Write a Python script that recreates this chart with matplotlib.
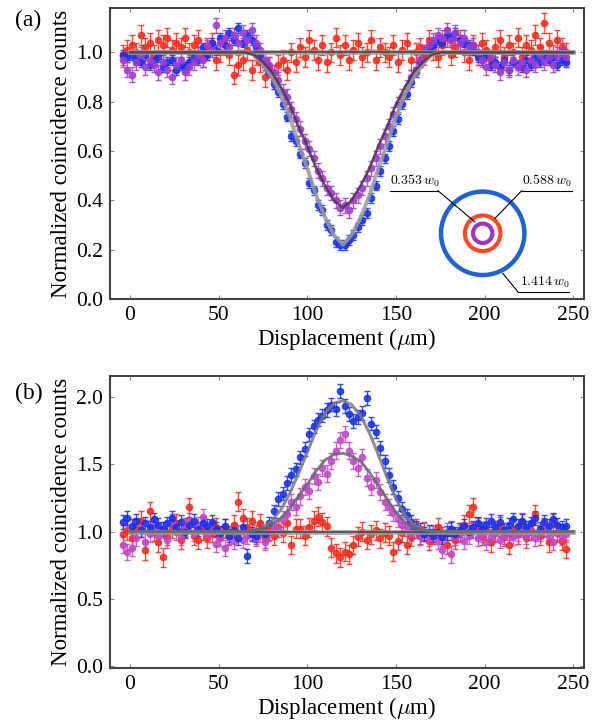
import numpy as np
import matplotlib
matplotlib.use("Agg")
import matplotlib.pyplot as plt

plt.rcParams['font.family'] = ['Liberation Serif', 'DejaVu Serif']
plt.rcParams['mathtext.fontset'] = 'cm'

# sample positions (um)
x = np.arange(-4, 247, 2.5)

# ---- panel (a) data ----
red_a = [0.99, 1.01, 1.03, 1.00, 1.07, 1.02, 1.04, 0.99, 1.05, 1.03,
         1.06, 1.01, 1.04, 1.02, 1.06, 1.00, 1.03, 1.05, 0.98, 1.01,
         1.04, 0.97, 1.00, 1.03, 0.99, 0.91, 0.95, 0.97, 1.01, 0.93,
         0.99, 0.96, 0.90, 0.94, 0.89, 0.95, 0.97, 0.93, 1.00, 0.96,
         1.02, 0.98, 1.05, 1.01, 0.97, 1.03, 0.96, 1.00, 1.06, 0.99,
         1.03, 0.97, 1.01, 1.04, 0.98, 1.00, 1.05, 0.97, 1.02, 1.00,
         0.98, 1.03, 0.96, 1.01, 1.04, 0.97, 1.00, 1.02, 0.99, 1.05,
         1.01, 0.98, 1.03, 1.06, 0.99, 1.02, 1.05, 1.00, 0.97, 1.03,
         0.99, 1.04, 1.01, 0.97, 1.02, 1.05, 0.98, 1.03, 1.00, 1.06,
         0.98, 1.03, 1.01, 1.07, 1.02, 1.12, 1.04, 0.99, 1.05, 1.02,
         1.00]
blue_a = [0.99, 0.98, 0.99, 0.97, 0.96, 0.99, 0.95, 0.97, 0.98, 0.94,
          0.96, 0.97, 0.93, 0.95, 0.94, 0.96, 0.98, 0.97, 1.02, 0.99,
          1.04, 1.01, 1.06, 1.03, 1.08, 1.05, 1.10, 1.04, 1.07, 1.05,
          1.02, 0.99, 0.95, 0.92, 0.87, 0.84, 0.79, 0.74, 0.66, 0.64,
          0.59, 0.55, 0.47, 0.44, 0.38, 0.36, 0.30, 0.28, 0.23, 0.22,
          0.22, 0.24, 0.26, 0.29, 0.32, 0.35, 0.41, 0.46, 0.52, 0.57,
          0.62, 0.68, 0.73, 0.79, 0.83, 0.88, 0.92, 0.96, 1.00, 1.01,
          1.03, 1.05, 1.04, 1.07, 1.06, 1.08, 1.05, 1.04, 1.03, 1.01,
          0.98, 0.97, 0.99, 0.95, 0.96, 0.94, 0.97, 0.93, 0.96, 0.95,
          0.94, 0.97, 0.95, 0.98, 0.96, 0.99, 0.97, 0.98, 0.95, 0.97,
          0.96]
purple_a = [0.97, 0.93, 0.91, 0.96, 0.99, 0.94, 0.97, 0.95, 0.92, 0.96,
            0.93, 0.90, 0.95, 0.97, 0.92, 0.94, 0.96, 0.99, 0.97, 1.03,
            1.01, 1.11, 1.04, 1.06, 1.02, 1.07, 1.04, 1.08, 1.05, 1.09,
            1.04, 1.01, 0.97, 0.95, 0.92, 0.89, 0.84, 0.82, 0.77, 0.73,
            0.69, 0.64, 0.61, 0.57, 0.52, 0.49, 0.45, 0.43, 0.40, 0.37,
            0.38, 0.36, 0.40, 0.42, 0.45, 0.49, 0.53, 0.57, 0.62, 0.66,
            0.70, 0.75, 0.79, 0.82, 0.86, 0.90, 0.93, 0.97, 1.00, 1.03,
            1.05, 1.07, 1.06, 1.09, 1.05, 1.08, 1.04, 1.06, 1.02, 1.03,
            1.00, 0.97, 0.94, 0.98, 0.95, 0.92, 0.96, 0.93, 0.97, 0.94,
            0.96, 0.93, 0.97, 0.95, 0.99, 0.96, 0.98, 0.95, 0.99, 1.01,
            0.98]

# ---- panel (b) data ----
red_b = [0.98, 1.01, 0.95, 1.03, 1.08, 0.86, 1.15, 1.00, 0.92, 0.81,
         0.97, 1.02, 1.06, 0.94, 1.03, 1.18, 0.97, 0.94, 1.01, 0.95,
         0.99, 1.03, 0.96, 1.02, 0.97, 1.05, 1.22, 1.10, 1.03, 1.08,
         0.98, 1.06, 0.95, 1.01, 0.97, 1.03, 0.99, 1.06, 0.90, 1.02,
         1.02, 0.97, 1.03, 1.08, 1.11, 1.07, 1.04, 0.88, 0.84, 0.81,
         0.85, 0.83, 0.90, 0.96, 1.00, 0.94, 0.98, 1.01, 0.95, 0.99,
         0.97, 0.85, 0.93, 0.99, 0.90, 0.96, 1.02, 0.97, 1.00, 0.93,
         0.98, 1.03, 0.96, 0.90, 1.01, 0.94, 0.99, 1.05, 1.13, 1.18,
         1.03, 0.97, 1.01, 0.92, 0.99, 1.04, 0.96, 0.90, 1.02, 0.98,
         1.07, 0.95, 1.01, 1.13, 0.97, 1.03, 0.92, 1.06, 0.99, 0.93,
         0.87]
blue_b = [1.07, 1.10, 1.04, 1.08, 1.01, 1.06, 1.03, 1.09, 1.05, 1.02,
          1.06, 1.10, 1.03, 1.07, 1.00, 1.05, 1.08, 1.02, 1.06, 1.04,
          1.07, 1.02, 0.99, 1.04, 0.97, 1.01, 0.95, 1.03, 0.82, 0.98,
          0.97, 1.01, 0.98, 1.06, 1.15, 1.24, 1.28, 1.36, 1.42, 1.46,
          1.55, 1.61, 1.72, 1.78, 1.83, 1.86, 1.90, 1.94, 1.91, 2.04,
          1.93, 1.87, 1.82, 1.85, 1.88, 1.99, 1.80, 1.74, 1.62, 1.52,
          1.42, 1.33, 1.25, 1.17, 1.12, 1.07, 1.03, 1.01, 0.98, 1.00,
          0.97, 1.00, 0.96, 0.99, 1.02, 0.98, 1.01, 1.04, 1.00, 1.03,
          1.06, 1.02, 1.05, 1.08, 1.03, 1.07, 1.01, 1.05, 1.09, 1.04,
          1.08, 1.03, 1.06, 1.10, 1.02, 1.07, 1.04, 1.09, 1.05, 1.03,
          1.04]
purple_b = [0.90, 0.85, 0.88, 0.95, 1.02, 0.92, 0.98, 1.04, 0.97, 1.01,
            0.94, 1.07, 1.00, 0.96, 1.03, 1.08, 0.99, 1.05, 1.11, 0.98,
            1.02, 0.91, 0.95, 0.88, 0.97, 0.93, 0.99, 0.94, 0.97, 1.00,
            0.95, 0.98, 0.92, 0.99, 1.04, 1.02, 1.09, 1.13, 1.22, 1.18,
            1.26, 1.33, 1.30, 1.41, 1.37, 1.47, 1.43, 1.52, 1.60, 1.68,
            1.72, 1.60, 1.52, 1.47, 1.55, 1.40, 1.33, 1.38, 1.29, 1.22,
            1.18, 1.14, 1.09, 1.05, 1.03, 0.99, 1.01, 0.97, 1.00, 0.95,
            0.98, 0.93, 0.86, 1.00, 0.83, 0.96, 0.99, 0.93, 0.97, 1.01,
            0.95, 0.98, 0.92, 0.96, 0.99, 0.94, 0.97, 1.00, 0.96, 0.99,
            1.02, 0.97, 1.00, 0.95, 0.99, 1.03, 0.97, 0.92, 1.00, 0.96,
            0.98]

# error bar half-widths per series
err_a = {'red': 0.04, 'blue': 0.02, 'purple': 0.03}
err_b = {'red': 0.07, 'blue': 0.05, 'purple': 0.06}

# fit curves, sampled every 5 um from 0 to 250
fit_x = np.arange(0, 251, 5)
blue_fit_a = [1.0] * 14 + [0.99, 0.95, 0.90, 0.83, 0.74, 0.63, 0.53, 0.42, 0.33, 0.26, 0.22,
                           0.26, 0.33, 0.42, 0.53, 0.63, 0.74, 0.83, 0.90, 0.95, 0.99] + [1.0] * 16
purple_fit_a = [1.0] * 14 + [0.99, 0.96, 0.92, 0.86, 0.79, 0.70, 0.62, 0.53, 0.46, 0.40, 0.37,
                             0.40, 0.46, 0.53, 0.62, 0.70, 0.79, 0.86, 0.92, 0.96, 0.99] + [1.0] * 16
blue_fit_b = [1.0] * 14 + [1.01, 1.03, 1.08, 1.16, 1.28, 1.43, 1.59, 1.75, 1.88, 1.95, 1.97,
                           1.94, 1.86, 1.73, 1.57, 1.40, 1.24, 1.12, 1.05, 1.02, 1.00] + [1.0] * 16
purple_fit_b = [1.0] * 14 + [1.01, 1.02, 1.05, 1.10, 1.17, 1.26, 1.35, 1.45, 1.53, 1.57, 1.58,
                             1.56, 1.52, 1.44, 1.34, 1.24, 1.14, 1.07, 1.03, 1.01, 1.00] + [1.0] * 16
flat_x = [0, 250]
flat_y = [1.0, 1.0]

# inset ring labels
ring_labels = [r'$0.353\,w_0$', r'$0.588\,w_0$', r'$1.414\,w_0$']

colors_a = {'red': '#ff2a1a', 'blue': '#1530f0', 'purple': '#a03ad0'}
colors_b = {'red': '#ff2a1a', 'blue': '#1530f0', 'purple': '#c046c8'}

fig = plt.figure(figsize=(6.06, 7.2), dpi=100)
ax1 = fig.add_axes([110/606, 1-299/720, 474/606, 291/720])
ax2 = fig.add_axes([110/606, 1-668/720, 474/606, 292/720])


def draw_data(ax, series, err, cols):
    for name, y in series:
        ax.errorbar(x, y, yerr=err[name], fmt='o', ms=4.5, color=cols[name],
                    ecolor=cols[name], elinewidth=1, capsize=2.5, capthick=1,
                    alpha=0.85, zorder=2)


draw_data(ax1, [('red', red_a), ('blue', blue_a), ('purple', purple_a)], err_a, colors_a)
ax1.plot(flat_x, flat_y, color='#999999', lw=3.5, alpha=0.8, zorder=3)
ax1.plot(flat_x, flat_y, color='#333333', lw=1.2, alpha=0.8, zorder=3)
ax1.plot(fit_x, blue_fit_a, color='#9a9a9a', lw=2.8, alpha=0.85, zorder=3)
ax1.plot(fit_x, purple_fit_a, color='#4a3a4a', lw=1.8, alpha=0.85, zorder=3)

draw_data(ax2, [('red', red_b), ('purple', purple_b), ('blue', blue_b)], err_b, colors_b)
ax2.plot(flat_x, flat_y, color='#999999', lw=3.5, alpha=0.8, zorder=3)
ax2.plot(flat_x, flat_y, color='#333333', lw=1.2, alpha=0.8, zorder=3)
ax2.plot(fit_x, blue_fit_b, color='#7a7a7a', lw=2.2, alpha=0.85, zorder=3)
ax2.plot(fit_x, purple_fit_b, color='#6a6a6a', lw=2.0, alpha=0.85, zorder=3)

ax1.set_xlim(-11.3, 256)
ax1.set_ylim(0, 1.18)
ax1.set_yticks([0.0, 0.2, 0.4, 0.6, 0.8, 1.0])
ax2.set_xlim(-11.3, 256)
ax2.set_ylim(-0.012, 2.153)
ax2.set_yticks([0.0, 0.5, 1.0, 1.5, 2.0])

for ax in (ax1, ax2):
    ax.set_xticks([0, 50, 100, 150, 200, 250])
    ax.yaxis.set_major_formatter(matplotlib.ticker.FormatStrFormatter('%.1f'))
    ax.tick_params(direction='in', length=3, width=0.8, color='#888888',
                   top=True, right=True, labelsize=15.5, pad=5)
    for s in ax.spines.values():
        s.set_linewidth(1.5)
        s.set_color('#444444')
    ax.set_xlabel(r'Displacement ($\mu$m)', fontsize=16.5, labelpad=1)
    ax.set_ylabel('Normalized coincidence counts', fontsize=16.5, labelpad=3)

fig.text(15/606, 1-20/720, '(a)', fontsize=17, va='center', ha='left')
fig.text(15/606, 1-393/720, '(b)', fontsize=17, va='center', ha='left')

# inset with beam rings, pixel-like coordinates
ins = fig.add_axes([385/606, 1-298/720, 195/606, 123/720])
ins.set_xlim(0, 195)
ins.set_ylim(0, 123)
ins.set_aspect('equal')
ins.axis('off')
cx, cy = 97.7, 64.7
ins.add_patch(plt.Circle((cx, cy), 41.7, fill=False, ec='#1e62d6', lw=3.2))
ins.add_patch(plt.Circle((cx, cy), 17.8, fill=False, ec='#ff4a22', lw=3.0))
ins.add_patch(plt.Circle((cx, cy), 9.7, fill=False, ec='#9a35c8', lw=3.0))
lk = dict(color='black', lw=0.8)
ins.plot([5, 53], [107.3, 107.3], **lk)
ins.plot([53, 90], [107.3, 76], **lk)
ins.plot([136.7, 187], [107.3, 107.3], **lk)
ins.plot([136.7, 110], [107.3, 79.7], **lk)
ins.plot([133.3, 184], [5.7, 5.7], **lk)
ins.plot([133.3, 117.7], [5.7, 24.7], **lk)
ins.text(5, 109, ring_labels[0], fontsize=10, ha='left', va='bottom')
ins.text(137, 109, ring_labels[1], fontsize=10, ha='left', va='bottom')
ins.text(135, 7.5, ring_labels[2], fontsize=10, ha='left', va='bottom')

fig.savefig('out.png', dpi=100)
